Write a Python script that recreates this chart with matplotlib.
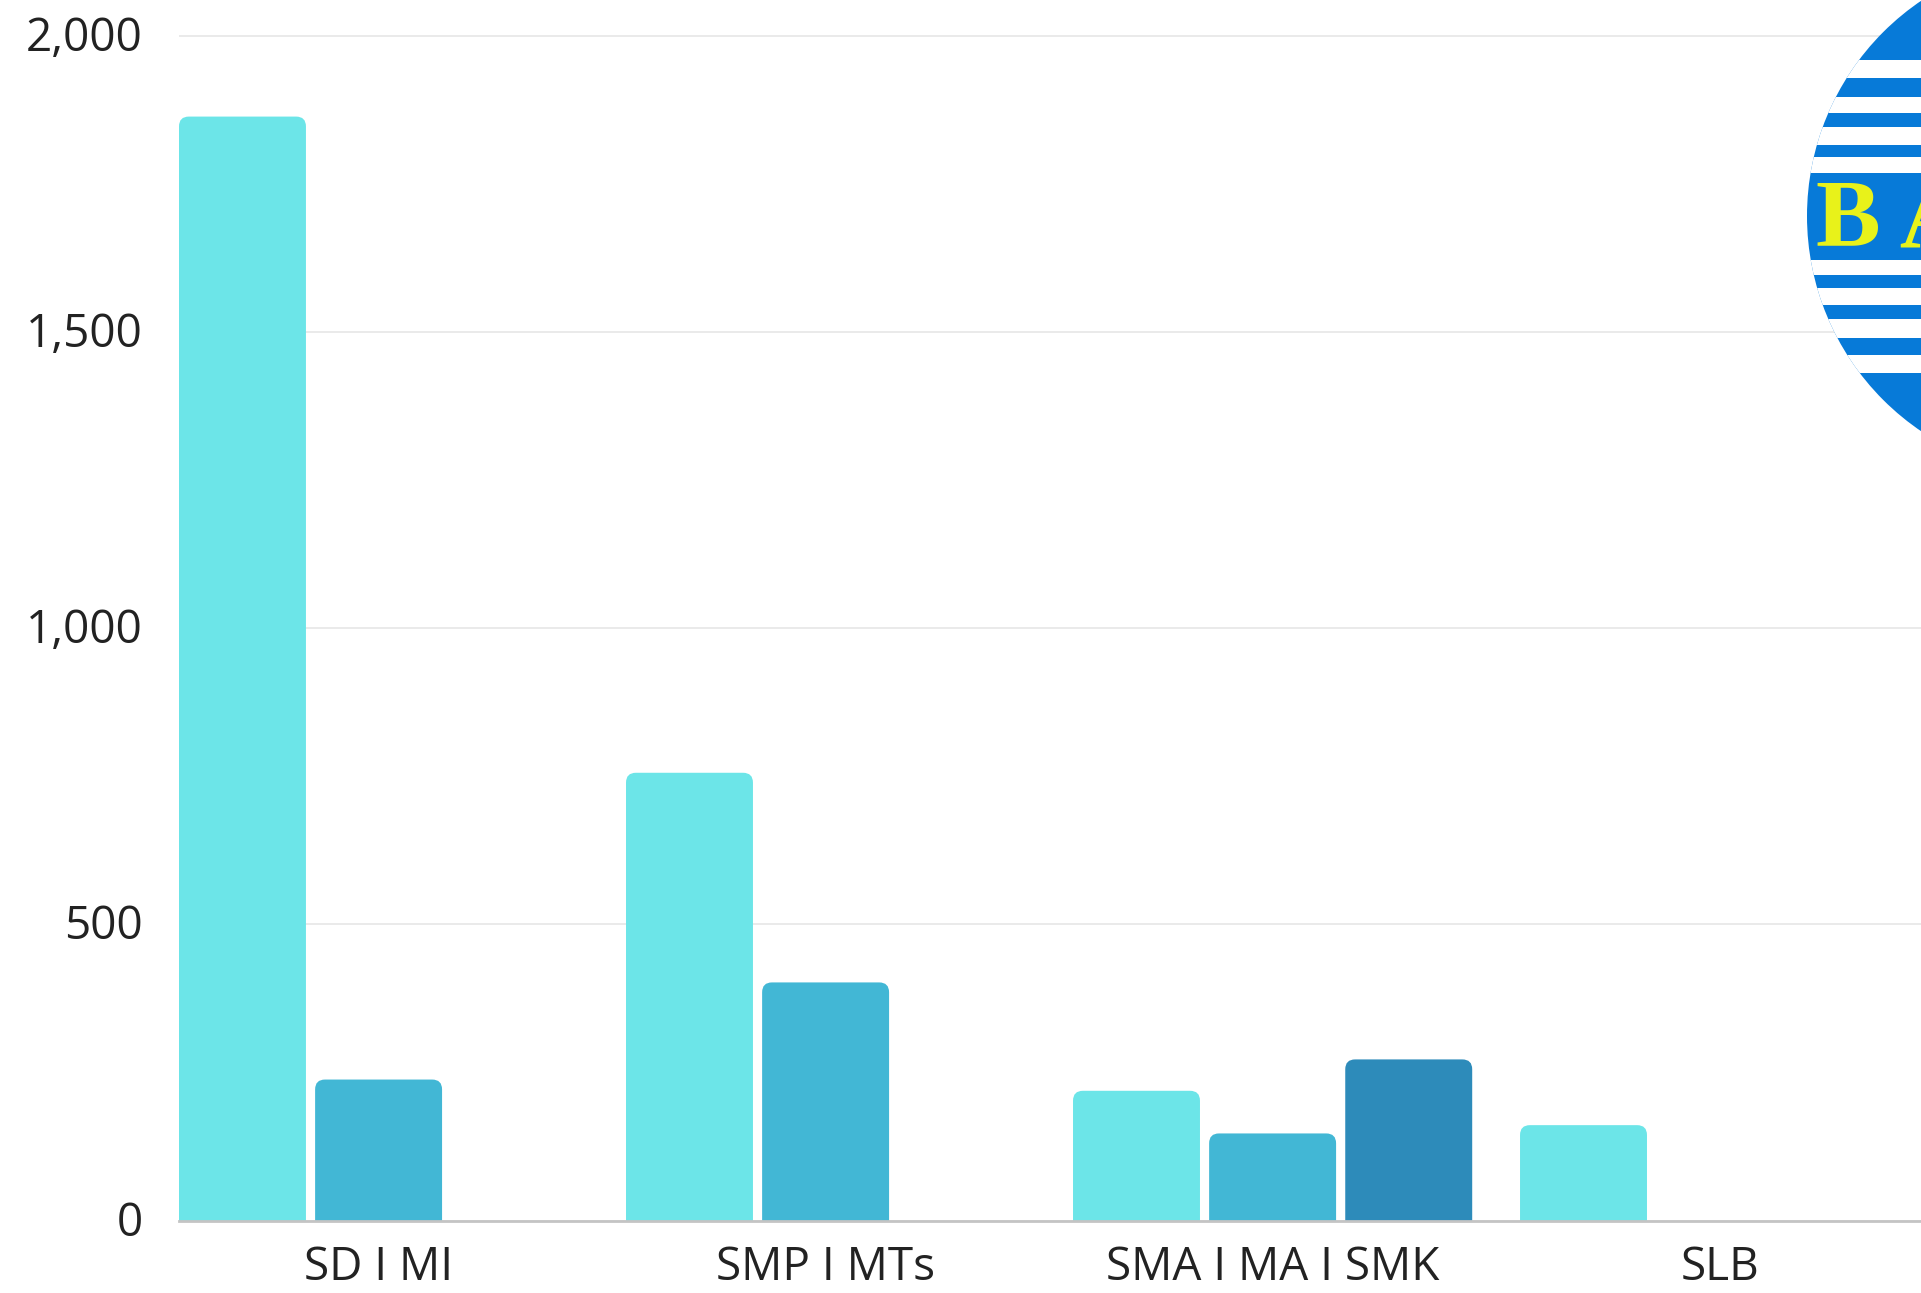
import matplotlib
matplotlib.use("Agg")
import matplotlib.pyplot as plt
import matplotlib.transforms as mtransforms
import numpy as np
from matplotlib.patches import FancyBboxPatch, Circle, Rectangle
from matplotlib.ticker import FuncFormatter

plt.rcParams['font.family'] = ['Open Sans', 'DejaVu Sans']

categories = ['SD I MI', 'SMP I MTs', 'SMA I MA I SMK', 'SLB']
series_1 = [1864, 756, 219, 161]
series_2 = [238, 402, 147, 0]
series_3 = [0, 0, 272, 0]
colors = ['#6ce5e8', '#42b7d5', '#2d8bba']
yticks = [0, 500, 1000, 1500, 2000]

W, H = 1921, 1293
fig = plt.figure(figsize=(W / 100, H / 100), dpi=100)
ax = fig.add_axes([179 / W, 72.5 / H, 1 - 179 / W, 1220 / H])

x = np.arange(len(categories))
step = 0.3045
width = 0.284
for j, vals in enumerate([series_1, series_2, series_3]):
    bars = ax.bar(x + (j - 1) * step, vals, width=width, color=colors[j])
    for b, v in zip(bars, vals):
        b.set_visible(False)
        if v <= 0:
            continue
        # rounded top corners, bottom pushed below the axis
        fb = FancyBboxPatch((b.get_x(), -40), b.get_width(), v + 40,
                            boxstyle="round,pad=0,rounding_size=0.022",
                            mutation_aspect=755, facecolor=colors[j],
                            edgecolor='none', zorder=2)
        ax.add_patch(fb)

ax.set_xlim(-0.4465, 3.4505)
ax.set_ylim(0, 2060)
ax.set_yticks(yticks)
ax.yaxis.set_major_formatter(FuncFormatter(lambda v, p: f"{int(v):,}"))
ax.set_xticks(x)
ax.set_xticklabels(categories)
ax.tick_params(axis='both', length=0, labelsize=33, colors='#222222')
ax.tick_params(axis='y', pad=26)
ax.tick_params(axis='x', pad=18)
up = mtransforms.ScaledTranslation(0, 2.5 / 100, fig.dpi_scale_trans)
for lab in ax.get_yticklabels():
    lab.set_transform(lab.get_transform() + up)
ax.grid(axis='y', color='#e6e6e6', lw=1.2)
ax.set_axisbelow(True)
for s in ['top', 'right', 'left']:
    ax.spines[s].set_visible(False)
ax.spines['bottom'].set_color('#c4c4c4')
ax.spines['bottom'].set_linewidth(2)
ax.spines['bottom'].set_zorder(3)

# logo in the top right corner
la = fig.add_axes([0, 0, 1, 1], zorder=5)
la.set_xlim(0, W)
la.set_ylim(H, 0)
la.axis('off')
blue = '#077ad8'
circ = Circle((2067, 216), 260, facecolor=blue, edgecolor='none')
la.add_patch(circ)
for y0, y1 in [(60, 78), (97, 113), (127, 145), (157, 173),
               (260, 275), (288, 305), (319, 338), (355, 373)]:
    r = Rectangle((1700, y0), 400, y1 - y0, facecolor='white', edgecolor='none')
    la.add_patch(r)
    r.set_clip_path(circ)
t = la.text(1816, 223, 'B A', color='#e8f21a', fontsize=70, fontweight='bold',
            family='Liberation Serif', va='center', ha='left')
t.set_clip_path(circ)

fig.savefig('out.png', dpi=100, facecolor='white')
